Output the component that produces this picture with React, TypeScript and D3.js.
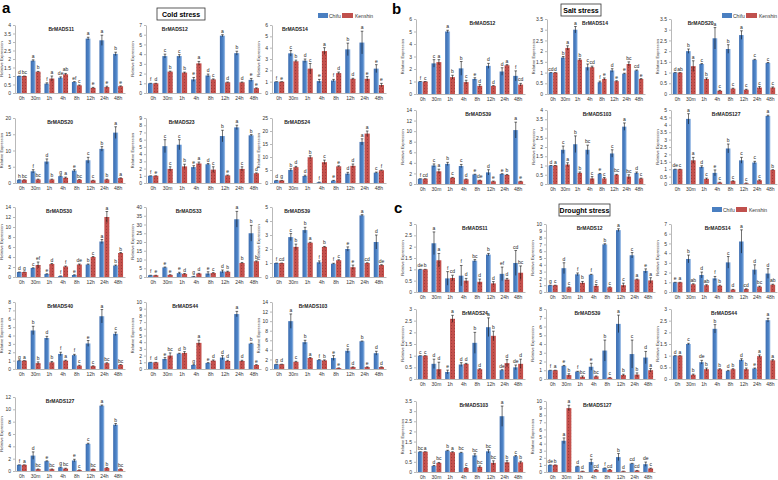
import React, { useEffect, useRef } from "react";
import * as d3 from "d3";

const times = ["0h", "30m", "1h", "4h", "8h", "12h", "24h", "48h"];

// a - cold stress
const coldGenes = ["BrMADS11", "BrMADS12", "BrMADS14", "BrMADS20", "BrMADS23", "BrMADS24", "BrMADS30", "BrMADS33", "BrMADS39", "BrMADS40", "BrMADS44", "BrMADS103", "BrMADS127"];
const coldMax = [4, 7, 6, 20, 9, 25, 14, 40, 5, 8, 10, 14, 12];
const coldStep = [0.5, 1, 1, 5, 1, 5, 2, 5, 1, 1, 1, 2, 2];
const coldChifu = [
  [1, 1.9, 0.55, 0.9, 0.65, 3.2, 3.1, 2.3],
  [1, 3.8, 3.8, 1.4, 1.8, 5.9, 4.1, 1.35],
  [1, 3.5, 2.85, 1.05, 1.1, 3.85, 4.45, 2.15],
  [1, 3.6, 6.6, 2.1, 3.8, 7, 10.5, 15.5],
  [1, 5.1, 5.3, 2.2, 2.6, 6.5, 7.7, 6.6],
  [1, 5, 2.7, 0.3, 0.9, 3.6, 15.8, 4],
  [1, 1.8, 0.6, 0.2, 0.4, 2.5, 7.1, 2.3],
  [1, 5.5, 2.2, 0.3, 2, 3.2, 33, 25],
  [1, 2.85, 3.35, 1.05, 0.95, 2.0, 4.4, 2.5],
  [1, 4.6, 3.7, 1.8, 1.65, 3.05, 6.3, 4.2],
  [1, 1.5, 2.3, 0.6, 0.9, 1.7, 8.2, 3.8],
  [1, 10, 5.6, 1.9, 2.3, 3.8, 5.8, 3.3],
  [1, 2.5, 1.6, 0.6, 1.7, 4.4, 10.6, 7.5],
];
const coldChifuErr = [
  [0, 0.05, 0.05, 0.05, 0.02, 0.08, 0.3, 0.1],
  [0, 0.2, 0.15, 0.2, 0.15, 0.1, 0.2, 0.15],
  [0, 0.25, 0.15, 0.15, 0.1, 0.55, 1.0, 0.35],
  [0, 0.5, 0.8, 0.1, 0.3, 0.9, 0.7, 1.8],
  [0, 0.9, 0.7, 0.2, 0.1, 0.8, 0.3, 0.1],
  [0, 0.5, 0.3, 0.05, 0.1, 0.5, 1.2, 0.2],
  [0, 0.05, 0.05, 0.02, 0.05, 0.1, 0.4, 0.1],
  [0, 0.2, 0.5, 0.05, 1, 0.8, 4.5, 4.5],
  [0, 0.25, 0.2, 0.1, 0.03, 0.15, 0.05, 0.5],
  [0, 0.5, 0.2, 0.2, 0.1, 0.35, 0.8, 0.2],
  [0, 0.2, 0.05, 0.05, 0.05, 0.3, 0.4, 0.05],
  [0, 1.5, 0.4, 0.05, 0.5, 0.4, 0.05, 0.4],
  [0, 0.6, 0.05, 0.05, 0.2, 0.1, 0.1, 0.2],
];
const coldKenshin = [
  [1, 1.25, 0.85, 1.1, 0.45, 0.3, 0.35, 0.4],
  [1, 2.2, 2.1, 3.05, 1.4, 1.1, 1.1, 0.5],
  [1, 2.8, 2.15, 3.7, 1.75, 1.25, 1.25, 0.7],
  [1, 1.1, 1.1, 1.6, 1.0, 0.8, 1.1, 1.5],
  [1, 1.95, 2.3, 2.7, 1.85, 1.05, 1.95, 1.35],
  [1, 6.1, 9.9, 8, 6.4, 6.6, 19, 4.9],
  [1, 2.4, 2.6, 2.1, 2.5, 4, 12, 4.8],
  [1, 1.2, 1.8, 2.0, 2.3, 3.0, 8, 9],
  [1, 2.15, 2.45, 2.15, 1.2, 0.7, 1.0, 0.85],
  [1, 0.7, 0.8, 1.0, 0.4, 0.35, 0.7, 0.5],
  [1, 2.0, 2.4, 3.9, 1.25, 1.2, 1.2, 0.6],
  [1, 1.5, 2.3, 1.8, 0.2, 0.4, 0.4, 0.4],
  [1, 0.3, 0.3, 0.4, 0.15, 0.3, 0.5, 0.3],
];
const coldKenshinErr = [
  [0, 0.02, 0.15, 0.05, 0.02, 0.03, 0.05, 0.02],
  [0, 0.05, 0.05, 0.2, 0.05, 0.03, 0.03, 0.03],
  [0, 0.1, 0.45, 0.3, 0.1, 0.05, 0.2, 0.15],
  [0, 0.1, 0.1, 0.2, 0.05, 0.05, 0.1, 0.1],
  [0, 0.3, 0.3, 0.2, 0.4, 0.05, 0.3, 0.05],
  [0, 0.3, 0.6, 0.8, 0.2, 0.7, 1.0, 0.1],
  [0, 0.6, 0.1, 0.1, 0.1, 0.1, 1.1, 0.1],
  [0, 0.1, 0.2, 0.1, 0.2, 0.3, 0.3, 0.2],
  [0, 0.2, 0.03, 0.03, 0.03, 0.15, 0.02, 0.03],
  [0, 0.15, 0.1, 0.05, 0.05, 0.03, 0.05, 0.03],
  [0, 0.4, 0.2, 0.4, 0.1, 0.1, 0.1, 0.05],
  [0, 0.1, 0.1, 0.1, 0.03, 0.05, 0.05, 0.05],
  [0, 0.03, 0.03, 0.05, 0.02, 0.03, 0.05, 0.05],
];
const coldChifuLetters = [
  ["d", "a", "f", "de", "ef", "a", "a", "b"],
  ["f", "c", "c", "e", "d", "a", "b", "e"],
  ["f", "c", "d", "e", "f", "b", "a", "e"],
  ["h", "f", "d", "g", "e", "c", "b", "a"],
  ["f", "c", "c", "e", "d", "b", "a", "b"],
  ["d", "b", "d", "f", "e", "d", "a", "c"],
  ["d", "c", "e", "f", "e", "b", "a", "b"],
  ["f", "e", "e", "g", "e", "d", "a", "b"],
  ["f", "c", "b", "f", "f", "e", "a", "d"],
  ["g", "b", "d", "f", "f", "e", "a", "c"],
  ["f", "e", "d", "g", "e", "d", "a", "b"],
  ["g", "a", "b", "f", "e", "c", "b", "d"],
  ["f", "d", "e", "g", "e", "c", "a", "b"],
];
const coldKenshinLetters = [
  ["bc", "b", "a", "ab", "c", "e", "e", "e"],
  ["d", "b", "b", "a", "c", "d", "d", "e"],
  ["e", "b", "c", "a", "d", "d", "e", "e"],
  ["bc", "bc", "b", "a", "bc", "c", "b", "a"],
  ["e", "c", "b", "a", "c", "e", "c", "d"],
  ["g", "d", "b", "c", "e", "d", "a", "f"],
  ["g", "ef", "d", "f", "de", "c", "a", "b"],
  ["e", "e", "d", "d", "c", "b", "b", "b"],
  ["cd", "b", "a", "b", "c", "e", "cd", "de"],
  ["a", "b", "b", "a", "c", "c", "bc", "bc"],
  ["d", "bc", "b", "a", "d", "d", "d", "e"],
  ["d", "c", "a", "b", "e", "d", "e", "d"],
  ["a", "bc", "bc", "bc", "c", "bc", "b", "bc"],
];

// b - salt stress
const saltGenes = ["BrMADS12", "BrMADS14", "BrMADS20", "BrMADS39", "BrMADS103", "BrMADS127"];
const saltMax = [6, 3.5, 3.5, 14, 4, 5];
const saltStep = [1, 0.5, 0.5, 2, 0.5, 0.5];
const saltChifu = [
  [1, 2.45, 5, 2.05, 1.2, 2.25, 1.8, 1.45],
  [1, 1.7, 3.0, 1.25, 0.55, 1.1, 0.95, 1.1],
  [1, 2.0, 1.4, 2.6, 2.1, 2.75, 1.6, 1.45],
  [1, 3.5, 3.8, 3.4, 1.8, 2.2, 1.9, 10.2],
  [1, 1.85, 2.15, 1.85, 0.55, 1.65, 3.1, 0.6],
  [1, 4.4, 1.15, 0.75, 2.4, 1.6, 1.45, 4.6],
];
const saltChifuErr = [
  [0, 0.3, 0.1, 0.55, 0.1, 0.2, 0.3, 0.4],
  [0, 0.05, 0.15, 0.15, 0.05, 0.08, 0.02, 0.02],
  [0, 0.1, 0.02, 0.5, 0.2, 0.2, 0.02, 0.02],
  [0, 0.3, 0.3, 0.3, 0.05, 0.5, 0.05, 1.5],
  [0, 0.2, 0.45, 0.25, 0.02, 0.2, 0.2, 0.05],
  [0, 0.35, 0.08, 0.2, 0.3, 0.2, 0.08, 0.05],
];
const saltKenshin = [
  [1, 2.55, 1.35, 0.95, 0.65, 0.65, 2.3, 0.75],
  [1, 2.15, 1.6, 1.25, 0.7, 0.6, 1.4, 0.7],
  [1, 1.3, 0.7, 0.15, 0.25, 0.2, 0.3, 0.3],
  [1, 2.4, 1.2, 0.9, 0.7, 0.5, 1.7, 0.5],
  [1, 1.05, 0.6, 0.3, 0.3, 0.5, 0.4, 0.3],
  [1, 1.6, 0.35, 0.1, 0.2, 0.05, 0.25, 0.95],
];
const saltKenshinErr = [
  [0, 0.2, 0.15, 0.15, 0.1, 0.02, 0.05, 0.1],
  [0, 0.1, 0.05, 0.05, 0.05, 0.02, 0.1, 0.02],
  [0, 0.25, 0.05, 0.02, 0.02, 0.02, 0.05, 0.03],
  [0, 0.4, 0.05, 0.05, 0.02, 0.05, 0.1, 0.02],
  [0, 0.1, 0.05, 0.1, 0.05, 0.02, 0.1, 0.02],
  [0, 0.2, 0.05, 0.02, 0.02, 0.02, 0.03, 0.02],
];
const saltChifuLetters = [
  ["f", "c", "a", "b", "e", "d", "d", "f"],
  ["cd", "b", "a", "c", "f", "d", "e", "cd"],
  ["d", "b", "c", "a", "b", "a", "c", "c"],
  ["f", "c", "b", "c", "e", "d", "e", "a"],
  ["d", "c", "b", "bc", "e", "c", "a", "d"],
  ["de", "a", "d", "e", "b", "c", "c", "a"],
];
const saltKenshinLetters = [
  ["c", "a", "b", "c", "d", "d", "a", "cd"],
  ["d", "a", "b", "cd", "e", "e", "bc", "e"],
  ["ab", "a", "b", "c", "c", "c", "c", "c"],
  ["cd", "a", "c", "d", "de", "e", "b", "e"],
  ["a", "a", "b", "c", "c", "bc", "bc", "c"],
  ["c", "a", "c", "c", "c", "c", "c", "b"],
];

// c - drought stress
const droughtGenes = ["BrMADS11", "BrMADS12", "BrMADS14", "BrMADS24", "BrMADS39", "BrMADS44", "BrMADS103", "BrMADS127"];
const droughtMax = [3, 10, 7, 3, 8, 3, 3.5, 10];
const droughtStep = [0.5, 1, 1, 0.5, 1, 0.5, 0.5, 1];
const droughtChifu = [
  [1, 2.15, 0.6, 0.72, 1.38, 1.65, 0.8, 1.28],
  [1, 3.5, 2.6, 2.55, 7.0, 9.1, 5.4, 3.1],
  [1, 3.4, 1.75, 1.4, 3.05, 5.2, 2.3, 1.9],
  [1, 0.65, 0.3, 0.62, 1.55, 2.22, 0.38, 0.5],
  [1, 1.5, 0.85, 1.4, 3.25, 6.3, 2.85, 2.45],
  [1, 1.5, 0.72, 2.15, 0.35, 0.82, 0.45, 2.52],
  [1, 0.3, 1.05, 0.95, 0.82, 1.02, 2.75, 0.78],
  [1, 4.4, 0.8, 1.4, 0.55, 2.1, 1.2, 1.1],
];
const droughtChifuErr = [
  [0, 0.5, 0.3, 0.45, 0.05, 0.05, 0.3, 0.55],
  [0, 0.8, 0.2, 0.05, 0.1, 0.2, 0.4, 0.3],
  [0, 0.4, 0.3, 0.2, 0.6, 1.2, 0.5, 0.5],
  [0, 0.2, 0.08, 0.08, 0.45, 0.4, 0.02, 0.1],
  [0, 0.05, 0.03, 0.4, 1.2, 1.0, 1.6, 0.7],
  [0, 0.03, 0.08, 0.18, 0.02, 0.05, 0.02, 0.08],
  [0, 0.02, 0.02, 0.02, 0.08, 0.08, 0.5, 0.03],
  [0, 0.4, 0.02, 0.4, 0.02, 0.5, 0.02, 0.3],
];
const droughtKenshin = [
  [1, 1.4, 0.62, 0.5, 0.45, 0.38, 0.55, 0.85],
  [1, 0.7, 1.35, 0.9, 0.7, 1.0, 1.85, 1.7],
  [1, 0.8, 0.7, 0.65, 0.25, 0.3, 0.55, 0.75],
  [1, 0.42, 2.58, 0.65, 0.42, 1.85, 0.68, 0.65],
  [1, 0.45, 0.25, 0.3, 0.15, 0.45, 0.5, 1.0],
  [1, 0.18, 0.42, 0.42, 0.42, 0.42, 0.98, 0.8],
  [1, 0.45, 0.98, 0.2, 0.25, 0.45, 0.48, 0.48],
  [1, 9.0, 0.1, 0.3, 0.3, 0.1, 0.2, 0.5],
];
const droughtKenshinErr = [
  [0, 0.3, 0.12, 0.1, 0.12, 0.08, 0.05, 0.3],
  [0, 0.05, 0.2, 0.2, 0.05, 0.3, 0.05, 0.4],
  [0, 0.05, 0.05, 0.05, 0.02, 0.03, 0.05, 0.05],
  [0, 0.3, 0.15, 0.02, 0.02, 0.2, 0.15, 0.2],
  [0, 0.15, 0.1, 0.05, 0.03, 0.1, 0.2, 0.2],
  [0, 0.03, 0.05, 0.02, 0.02, 0.05, 0.05, 0.03],
  [0, 0.02, 0.02, 0.02, 0.05, 0.1, 0.08, 0.05],
  [0, 0.4, 0.02, 0.05, 0.05, 0.02, 0.02, 0.05],
];
const droughtChifuLetters = [
  ["de", "a", "f", "f", "bc", "b", "ef", "cd"],
  ["g", "d", "f", "f", "b", "a", "c", "e"],
  ["e", "b", "d", "f", "c", "a", "d", "d"],
  ["c", "d", "e", "d", "b", "a", "de", "de"],
  ["f", "e", "f", "e", "b", "a", "c", "d"],
  ["d", "c", "de", "b", "d", "d", "e", "a"],
  ["bc", "d", "b", "bc", "bc", "bc", "a", "c"],
  ["de", "a", "d", "c", "f", "b", "cd", "de"],
];
const droughtKenshinLetters = [
  ["b", "a", "cd", "d", "d", "d", "d", "bc"],
  ["c", "c", "b", "c", "c", "c", "a", "a"],
  ["a", "ab", "ab", "b", "d", "cd", "bc", "ab"],
  ["c", "d", "a", "d", "d", "b", "d", "d"],
  ["a", "b", "bc", "bc", "c", "b", "b", "a"],
  ["a", "b", "b", "b", "b", "b", "a", "a"],
  ["a", "bc", "a", "c", "bc", "bc", "b", "b"],
  ["b", "a", "d", "cd", "cd", "d", "cd", "c"],
];

// layout (pixels) for each panel's grid
const coldCols = [[15, 125], [146, 261], [272, 386]];
const coldRows = [[25, 93], [118, 183], [207, 277], [302, 369], [397, 471]];
const coldTitleFrac = [0.42, 0.25, 0.2, 0.41, 0.31, 0.22, 0.4, 0.37, 0.22, 0.41, 0.34, 0.36, 0.41];
const saltCols = [[416, 525], [547, 645], [671, 777]];
const saltRows = [[19, 94], [110, 184]];
const saltTitleFrac = [0.61, 0.49, 0.28, 0.57, 0.51, 0.52];
const droughtCols = [[416, 525], [546, 655], [671, 777]];
const droughtRows = [[224, 292], [309, 379], [401, 472]];
const droughtTitleFrac = [0.54, 0.4, 0.44, 0.54, 0.38, 0.5, 0.53, 0.47];

const FONT = "'Liberation Sans', Arial, sans-serif";
const fmt = (v: number) => String(+v.toFixed(1));

function drawPlot(svg: any, i: number, d: any, cols: number[][], rows: number[][], frac: number[]) {
  const [x0, x1] = cols[i % 3];
  const [top, zero] = rows[Math.floor(i / 3)];
  const max = d.max[i], step = d.step[i];

  const x = d3.scaleBand().domain(times).range([x0, x1]).paddingInner(0.28).paddingOuter(0.14);
  const sub = d3.scaleBand().domain(["Chifu", "Kenshin"]).range([0, x.bandwidth()]);
  const y = d3.scaleLinear().domain([0, max]).range([zero, top]);

  const g = svg.append("g");

  const yAxis = g.append("g")
    .attr("transform", `translate(${x0},0)`)
    .call(d3.axisLeft(y).tickValues(d3.range(0, max + step / 2, step)).tickSize(2).tickSizeOuter(0).tickPadding(2).tickFormat((v: any) => fmt(v)));
  yAxis.selectAll("path,line").attr("stroke", "#8a8a8a").attr("stroke-width", 0.6);
  yAxis.selectAll("text").attr("font-size", 5).attr("font-family", FONT).attr("fill", "#333");

  const xAxis = g.append("g")
    .attr("transform", `translate(0,${zero})`)
    .call(d3.axisBottom(x).tickSize(0).tickSizeOuter(0).tickPadding(3));
  xAxis.select("path").attr("stroke", "#8a8a8a").attr("stroke-width", 0.6);
  xAxis.selectAll("text").attr("font-size", 5).attr("font-family", FONT).attr("fill", "#333");

  g.append("text")
    .attr("transform", `translate(${x0 - 12},${(top + zero) / 2}) rotate(-90)`)
    .attr("text-anchor", "middle")
    .attr("font-size", 4)
    .attr("font-family", FONT)
    .attr("fill", "#333")
    .text("Relative Expression");

  g.append("text")
    .attr("x", x0 + (x1 - x0) * frac[i])
    .attr("y", top + 6)
    .attr("text-anchor", "middle")
    .attr("font-size", 5)
    .attr("font-weight", "bold")
    .attr("font-family", FONT)
    .attr("fill", "#222")
    .text(d.genes[i]);

  const series = [
    { key: "Chifu", vals: d.chifu[i], errs: d.chifuErr[i], lets: d.chifuLet[i], fill: "url(#blueGrad)" },
    { key: "Kenshin", vals: d.kenshin[i], errs: d.kenshinErr[i], lets: d.kenshinLet[i], fill: "url(#redDots)" },
  ];

  series.forEach((s) => {
    const bx = (j: number) => (x(times[j]) as number) + (sub(s.key) as number);
    const bw = sub.bandwidth();
    const cx = (j: number) => bx(j) + bw / 2;

    g.selectAll(null).data(s.vals).enter().append("rect")
      .attr("x", (_: any, j: number) => bx(j))
      .attr("y", (v: number) => y(v))
      .attr("width", bw)
      .attr("height", (v: number) => zero - y(v))
      .attr("fill", s.fill);

    const eb = g.selectAll(null).data(s.vals).enter().append("g");
    eb.append("line")
      .attr("x1", (_: any, j: number) => cx(j)).attr("x2", (_: any, j: number) => cx(j))
      .attr("y1", (v: number, j: number) => y(v - s.errs[j]))
      .attr("y2", (v: number, j: number) => y(v + s.errs[j]))
      .attr("stroke", "#111").attr("stroke-width", 0.6);
    eb.append("line")
      .attr("x1", (_: any, j: number) => cx(j) - 1.3).attr("x2", (_: any, j: number) => cx(j) + 1.3)
      .attr("y1", (v: number, j: number) => y(v + s.errs[j]))
      .attr("y2", (v: number, j: number) => y(v + s.errs[j]))
      .attr("stroke", "#111").attr("stroke-width", 0.6);

    g.selectAll(null).data(s.vals).enter().append("text")
      .attr("x", (_: any, j: number) => cx(j))
      .attr("y", (v: number, j: number) => y(v + s.errs[j]) - 2)
      .attr("text-anchor", "middle")
      .attr("font-size", 5)
      .attr("font-family", FONT)
      .attr("fill", "#222")
      .text((_: any, j: number) => s.lets[j]);
  });
}

function drawHeader(svg: any, letter: string, lx: number, ly: number, title: string, bx: number, by: number, bw: number, legX: number, legY: number) {
  svg.append("text").attr("x", lx).attr("y", ly).attr("font-size", 15).attr("font-weight", "bold")
    .attr("font-family", FONT).text(letter);
  svg.append("rect").attr("x", bx).attr("y", by).attr("width", bw).attr("height", 12)
    .attr("fill", "#fff").attr("stroke", "#333").attr("stroke-width", 0.8);
  svg.append("text").attr("x", bx + bw / 2).attr("y", by + 8.5).attr("text-anchor", "middle")
    .attr("font-size", 7).attr("font-weight", "bold").attr("font-family", FONT).text(title);
  const leg = svg.append("g").attr("transform", `translate(${legX},${legY})`);
  leg.append("rect").attr("x", 0).attr("y", -4).attr("width", 10).attr("height", 5).attr("fill", "#4a7fc1");
  leg.append("text").attr("x", 11).attr("y", 0.5).attr("font-size", 5).attr("font-family", FONT).attr("fill", "#333").text("Chifu");
  leg.append("rect").attr("x", 24).attr("y", -4).attr("width", 11).attr("height", 5).attr("fill", "#c0504d");
  leg.append("text").attr("x", 37).attr("y", 0.5).attr("font-size", 5).attr("font-family", FONT).attr("fill", "#333").text("Kenshin");
}

export default function App() {
  const ref = useRef<SVGSVGElement>(null);

  useEffect(() => {
    const svg = d3.select(ref.current);
    svg.selectAll("*").remove();

    const defs = svg.append("defs");
    const grad = defs.append("linearGradient").attr("id", "blueGrad").attr("x1", "0").attr("x2", "1").attr("y1", "0").attr("y2", "0");
    grad.append("stop").attr("offset", "0%").attr("stop-color", "#3d6db0");
    grad.append("stop").attr("offset", "65%").attr("stop-color", "#4f86c9");
    grad.append("stop").attr("offset", "100%").attr("stop-color", "#a8c5ea");
    const pat = defs.append("pattern").attr("id", "redDots").attr("patternUnits", "userSpaceOnUse").attr("width", 3).attr("height", 3);
    pat.append("rect").attr("width", 3).attr("height", 3).attr("fill", "#c4504c");
    pat.append("circle").attr("cx", 1.5).attr("cy", 1.5).attr("r", 0.45).attr("fill", "#7a2725");

    svg.append("rect").attr("width", 778).attr("height", 480).attr("fill", "#fff");

    const cold = { genes: coldGenes, max: coldMax, step: coldStep, chifu: coldChifu, chifuErr: coldChifuErr, kenshin: coldKenshin, kenshinErr: coldKenshinErr, chifuLet: coldChifuLetters, kenshinLet: coldKenshinLetters };
    const salt = { genes: saltGenes, max: saltMax, step: saltStep, chifu: saltChifu, chifuErr: saltChifuErr, kenshin: saltKenshin, kenshinErr: saltKenshinErr, chifuLet: saltChifuLetters, kenshinLet: saltKenshinLetters };
    const drought = { genes: droughtGenes, max: droughtMax, step: droughtStep, chifu: droughtChifu, chifuErr: droughtChifuErr, kenshin: droughtKenshin, kenshinErr: droughtKenshinErr, chifuLet: droughtChifuLetters, kenshinLet: droughtKenshinLetters };

    coldGenes.forEach((_, i) => drawPlot(svg, i, cold, coldCols, coldRows, coldTitleFrac));
    saltGenes.forEach((_, i) => drawPlot(svg, i, salt, saltCols, saltRows, saltTitleFrac));
    droughtGenes.forEach((_, i) => drawPlot(svg, i, drought, droughtCols, droughtRows, droughtTitleFrac));

    drawHeader(svg, "a", 2, 13, "Cold stress", 157, 8, 48, 318, 17);
    drawHeader(svg, "b", 392, 14, "Salt stress", 561, 4, 40, 722, 17);
    drawHeader(svg, "c", 394, 213, "Drought stress", 559, 204, 51, 712, 211);
  }, []);

  return (
    <svg ref={ref} width={778} height={480} style={{ position: "absolute", left: 0, top: 0 }} />
  );
}
